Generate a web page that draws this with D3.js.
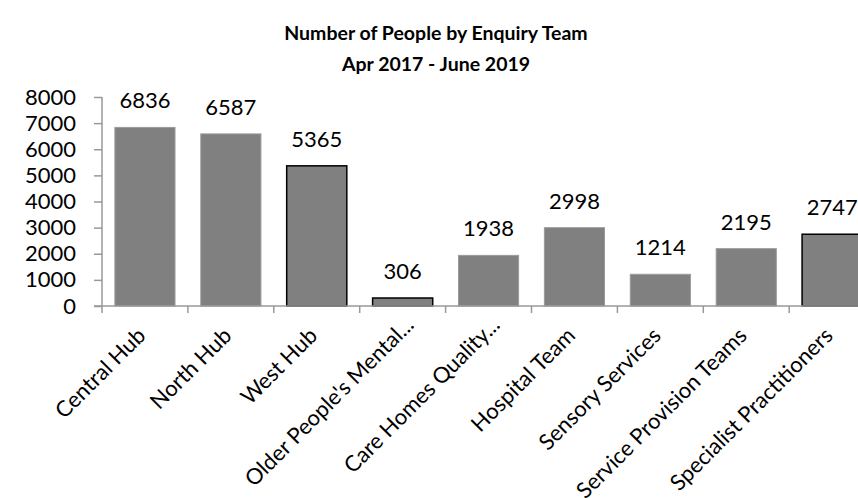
<!DOCTYPE html>
<html><head><meta charset="utf-8">
<script src="https://cdn.jsdelivr.net/npm/d3@7"></script>
<style>body{margin:0;background:#fff}svg{display:block}text{font-family:Lato,"Open Sans",sans-serif}</style>
</head><body>
<svg id="c" width="858" height="498"></svg>
<script>
const categories = ["Central Hub","North Hub","West Hub","Older People's Mental...","Care Homes Quality...","Hospital Team","Sensory Services","Service Provision Teams","Specialist Practitioners"];
const values = [6836,6587,5365,306,1938,2998,1214,2195,2747];
const outlined = [false,false,true,true,false,false,false,false,true];
const yTicks = [0,1000,2000,3000,4000,5000,6000,7000,8000];
const titleLines = ["Number of People by Enquiry Team","Apr 2017 - June 2019"];

const svg = d3.select("#c");
const pLeft = 102, pRight = 102 + 9*85.9, pTop = 97, pBottom = 306;
const x = d3.scaleBand().domain(categories).range([pLeft, pRight]).paddingInner(0.3).paddingOuter(0.15);
const y = d3.scaleLinear().domain([0, 8000]).range([pBottom, pTop]);

// title
svg.append("g").selectAll("text").data(titleLines).join("text")
  .attr("x", 436).attr("y", (d,i)=> 40 + i*31)
  .attr("text-anchor","middle").attr("font-weight","bold").attr("font-size", 19.5)
  .attr("fill","#000").text(d=>d);

// y axis
const yAxis = svg.append("g").attr("transform",`translate(${pLeft},0)`)
  .call(d3.axisLeft(y).tickValues(yTicks).tickSize(8).tickPadding(18).tickFormat(d3.format("d")));
yAxis.select(".domain").attr("stroke","#999").attr("stroke-width",1.5).attr("d",`M0,${pTop}H0V${pBottom}`);
yAxis.selectAll(".tick line").attr("stroke","#999").attr("stroke-width",1.5);
yAxis.selectAll(".tick text").attr("font-size",22).attr("fill","#000").attr("font-family","Lato");

// bars
svg.append("g").selectAll("rect").data(values).join("rect")
  .attr("x",(d,i)=>x(categories[i]))
  .attr("y",d=>y(d))
  .attr("width",x.bandwidth())
  .attr("height",d=>pBottom - y(d))
  .attr("fill","#808080")
  .attr("stroke",(d,i)=> outlined[i] ? "#000" : "#9a9a9a")
  .attr("stroke-width",(d,i)=> outlined[i] ? 1.5 : 1);

// x axis
const xAxis = svg.append("g").attr("transform",`translate(0,${pBottom})`)
  .call(d3.axisBottom(x).tickSize(0).tickFormat(""));
xAxis.select(".domain").attr("stroke","#999").attr("stroke-width",1.5).attr("d",`M${pLeft-8},0H${pRight}`);
xAxis.selectAll(".tick").remove();
const bounds = categories.map((c,i)=> pLeft + i*x.step());
svg.append("g").selectAll("line").data(bounds).join("line")
  .attr("x1",d=>d).attr("x2",d=>d).attr("y1",pBottom).attr("y2",pBottom+7)
  .attr("stroke","#999").attr("stroke-width",1.5);

// category labels
svg.append("g").selectAll("text").data(categories).join("text")
  .attr("transform",d=>`translate(${x(d)+x.bandwidth()/2+2},${pBottom+31}) rotate(-45)`)
  .attr("dx",d=> d.endsWith("...") ? 15 : 0)
  .attr("text-anchor","end").attr("font-size",22).attr("fill","#000").text(d=>d);

// value labels
svg.append("g").selectAll("text").data(values).join("text")
  .attr("x",(d,i)=>x(categories[i])+x.bandwidth()/2)
  .attr("y",d=>y(d)-19)
  .attr("text-anchor","middle").attr("font-size",22).attr("fill","#000").text(d=>d);
</script>
</body></html>
